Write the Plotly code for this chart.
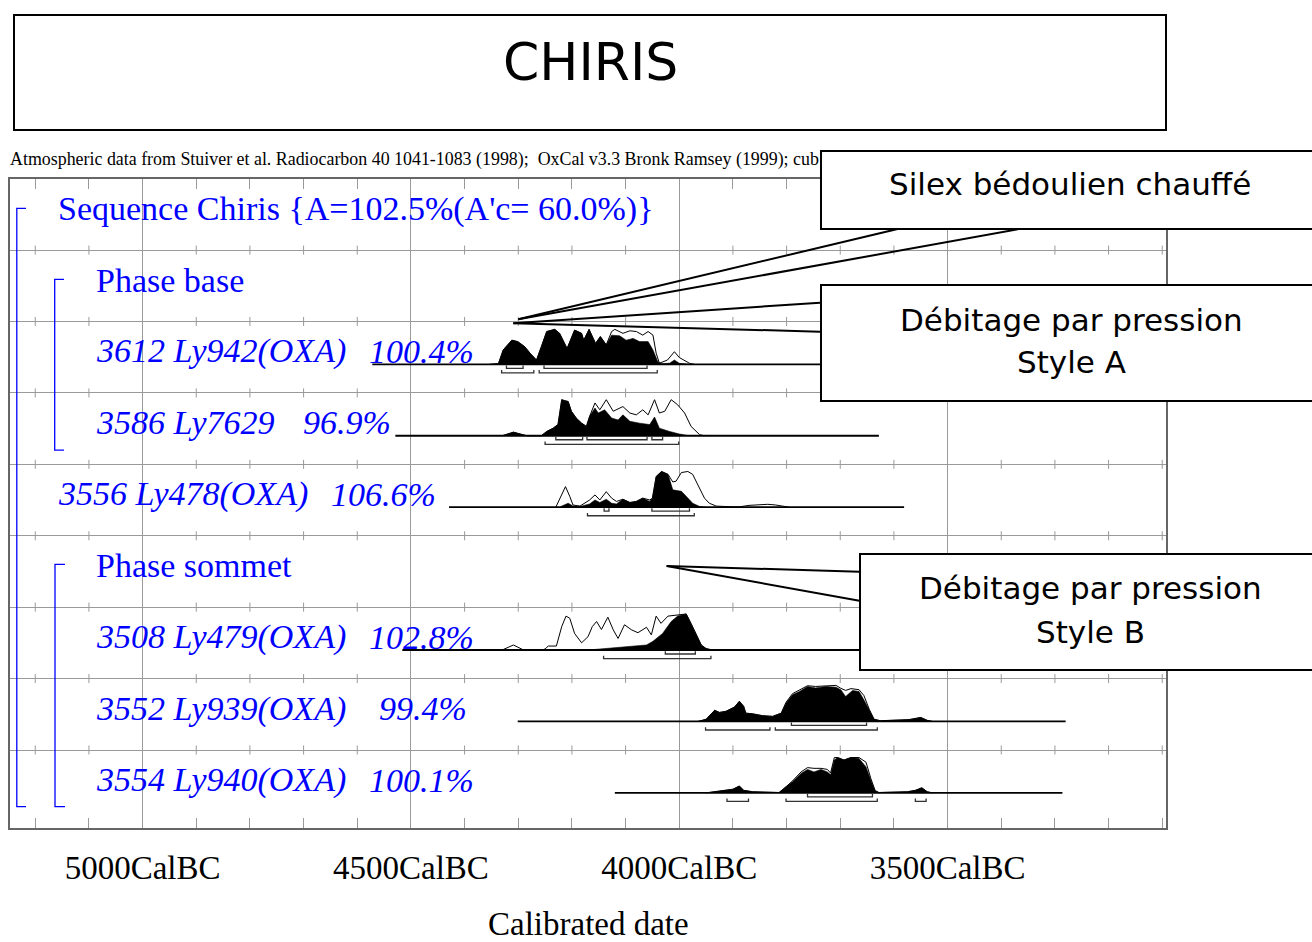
import plotly.graph_objects as go

W, H = 1312, 942

# ---------------- data ----------------
X_RANGE = [5248, 3093]                      # cal BC, left -> right
MAJOR_YEARS = [5000, 4500, 4000, 3500]
MAJOR_LABELS = ["5000CalBC", "4500CalBC", "4000CalBC", "3500CalBC"]
MINOR_YEARS = [5200, 5100, 4900, 4800, 4700, 4600, 4400, 4300, 4200, 4100,
               3900, 3800, 3700, 3600, 3400, 3300, 3200, 3100]
GRID_ROWS = [1, 2, 3, 4, 5, 6, 7, 8]

GROUP_LABELS = ["Sequence Chiris {A=102.5%(A'c= 60.0%)}", "Phase base", "Phase sommet"]
GROUP_ROWS = [0, 1, 5]

SAMPLE_NAMES = ["3612 Ly942(OXA)", "3586 Ly7629", "3556 Ly478(OXA)",
                "3508 Ly479(OXA)", "3552 Ly939(OXA)", "3554 Ly940(OXA)"]
SAMPLE_AGREE = ["100.4%", "96.9%", "106.6%", "102.8%", "99.4%", "100.1%"]
SAMPLE_ROWS = [2, 3, 4, 6, 7, 8]
LINE_START = [4572, 4529, 4429, 4516, 4301, 4120]
LINE_END = [3590, 3628, 3581, 3590, 3280, 3286]

# 3612 Ly942
S3612_post_yr = [4353, 4337, 4328, 4312, 4301, 4288, 4278, 4266, 4257, 4247, 4232, 4223, 4209, 4195,
                 4182, 4178, 4168, 4156, 4147, 4136, 4126, 4111, 4099, 4086, 4074, 4058, 4049, 4040,
                 4033, 4018, 4009, 4000, 3981]
S3612_post_h = [0, 2, 40, 67, 63, 49, 31, 12, 49, 91, 97, 86, 44, 95,
                86, 67, 97, 58, 77, 54, 81, 79, 67, 72, 63, 63, 40, 7,
                2, 3, 12, 3, 0]
S3612_prior_yr = [4353, 4337, 4328, 4312, 4301, 4288, 4278, 4266, 4257, 4247, 4232, 4223, 4209, 4195,
                  4182, 4178, 4168, 4156, 4147, 4136, 4126, 4120, 4105, 4092, 4080, 4068, 4058, 4049,
                  4043, 4037, 4022, 4009, 4000, 3981, 3972]
S3612_prior_h = [0, 2, 40, 67, 63, 49, 31, 12, 49, 91, 97, 86, 44, 95,
                 86, 67, 97, 58, 77, 54, 91, 97, 86, 93, 91, 81, 91, 81,
                 31, 3, 12, 35, 19, 3, 0]

# 3586 Ly7629
S3586_post_yr = [4330, 4309, 4284, 4257, 4247, 4235, 4226, 4219, 4213, 4207, 4201, 4192, 4182, 4173,
                 4167, 4157, 4151, 4139, 4126, 4114, 4105, 4092, 4074, 4055, 4046, 4037, 4018, 4000, 3981]
S3586_post_h = [0, 10, 0, 0, 12, 21, 31, 100, 97, 95, 68, 49, 35, 26,
                54, 77, 63, 72, 49, 44, 58, 40, 35, 31, 52, 21, 12, 5, 0]
S3586_prior_yr = [4330, 4309, 4284, 4257, 4247, 4235, 4226, 4219, 4213, 4207, 4201, 4192, 4182, 4173,
                  4167, 4157, 4148, 4136, 4123, 4105, 4092, 4080, 4068, 4058, 4046, 4037, 4027, 4015,
                  4003, 3990, 3978, 3962, 3953]
S3586_prior_h = [0, 10, 0, 0, 12, 21, 31, 100, 97, 95, 68, 49, 35, 26,
                 54, 91, 72, 100, 68, 81, 63, 58, 72, 58, 100, 63, 68, 100,
                 86, 63, 26, 3, 0]

# 3556 Ly478
S3556_post_yr = [4222, 4219, 4207, 4198, 4185, 4167, 4157, 4148, 4136, 4126, 4117, 4105, 4092, 4080,
                 4068, 4055, 4050, 4043, 4033, 4021, 4012, 3996, 3987, 3975, 3962, 3950]
S3556_post_h = [0, 3, 11, 3, 2, 9, 20, 13, 22, 11, 9, 22, 13, 16,
                25, 16, 25, 85, 99, 91, 48, 44, 30, 11, 2, 0]
S3556_prior_yr = [4230, 4219, 4212, 4204, 4198, 4185, 4167, 4157, 4148, 4136, 4126, 4117, 4105, 4092,
                  4080, 4068, 4055, 4050, 4043, 4033, 4021, 4012, 4006, 3996, 3984, 3975, 3965, 3953,
                  3944, 3931, 3900, 3888, 3870, 3850, 3835, 3820, 3801, 3795]
S3556_prior_h = [0, 34, 57, 30, 6, 3, 20, 34, 20, 43, 25, 16, 22, 13,
                 16, 25, 20, 25, 85, 99, 91, 70, 72, 96, 99, 91, 62, 25,
                 11, 3, 1, 1, 5, 6, 8, 6, 2, 0]

# 3508 Ly479
S3508_post_yr = [4170, 4123, 4086, 4061, 4049, 4031, 4015, 4003, 3987, 3978, 3968, 3959, 3950, 3938]
S3508_post_h = [0, 6, 9, 14, 24, 46, 79, 94, 100, 74, 42, 14, 4, 0]
S3508_prior_yr = [4330, 4309, 4290, 4255, 4250, 4244, 4229, 4219, 4211, 4204, 4195, 4182, 4170, 4162,
                  4154, 4145, 4133, 4123, 4114, 4102, 4089, 4077, 4061, 4052, 4043, 4034, 4021, 4006,
                  3987, 3978, 3968, 3959, 3950, 3938]
S3508_prior_h = [0, 14, 0, 0, 3, 11, 11, 65, 94, 88, 46, 20, 37, 65,
                 79, 57, 91, 56, 32, 70, 56, 48, 63, 42, 94, 74, 94, 97,
                 100, 74, 42, 14, 4, 0]

# 3552 Ly939
S3552_post_yr = [3965, 3950, 3934, 3925, 3913, 3903, 3897, 3888, 3880, 3876, 3863, 3845, 3826, 3810,
                 3801, 3789, 3776, 3761, 3746, 3727, 3708, 3699, 3690, 3677, 3665, 3656, 3646, 3637,
                 3625, 3572, 3550, 3538, 3528]
S3552_post_h = [0, 6, 31, 25, 28, 37, 40, 56, 42, 23, 21, 16, 14, 23,
                51, 74, 83, 97, 93, 97, 95, 88, 69, 86, 83, 60, 32, 6,
                2, 5, 11, 3, 0]
S3552_prior_yr = [3965, 3950, 3934, 3925, 3913, 3903, 3897, 3888, 3880, 3876, 3863, 3845, 3826, 3810,
                  3801, 3789, 3776, 3761, 3746, 3727, 3708, 3699, 3690, 3680, 3665, 3656, 3646, 3637,
                  3625, 3572, 3550, 3538, 3528]
S3552_prior_h = [0, 6, 31, 25, 28, 37, 40, 56, 42, 23, 21, 16, 14, 23,
                 53, 77, 88, 99, 97, 99, 100, 92, 86, 91, 88, 72, 34, 6,
                 2, 5, 11, 3, 0]

# 3554 Ly940
S3554_post_yr = [3950, 3938, 3913, 3900, 3888, 3880, 3863, 3814, 3801, 3789, 3773, 3761, 3749, 3736,
                 3724, 3718, 3711, 3705, 3693, 3680, 3665, 3652, 3643, 3635, 3628, 3575, 3560, 3548,
                 3538, 3528]
S3554_post_h = [0, 2, 7, 10, 19, 7, 3, 1, 17, 31, 54, 65, 58, 65,
                58, 50, 91, 98, 91, 98, 95, 72, 35, 6, 1, 3, 7, 14,
                3, 0]
S3554_prior_yr = [3950, 3938, 3913, 3900, 3888, 3880, 3863, 3814, 3801, 3789, 3773, 3761, 3749, 3736,
                  3724, 3718, 3711, 3705, 3693, 3680, 3665, 3652, 3643, 3635, 3628, 3575, 3560, 3548,
                  3538, 3528]
S3554_prior_h = [0, 2, 7, 10, 19, 7, 3, 1, 17, 33, 58, 70, 68, 68,
                 65, 55, 98, 98, 91, 98, 98, 85, 40, 6, 1, 3, 7, 14,
                 3, 0]

# highest-density ranges (cal BC): 68.2% (upper) and 95.4% (lower)
RANGES_68 = [[(4322, 4291), (4252, 4060)],
             [(4230, 4180), (4172, 4060), (4051, 4031)],
             [(4140, 4131), (4051, 3981)],
             [(4026, 3970)],
             [(3791, 3651)],
             [(3761, 3640)]]
RANGES_95 = [[(4331, 4271), (4261, 4041)],
             [(4250, 4001)],
             [(4171, 3972)],
             [(4141, 3941)],
             [(3951, 3831), (3821, 3631)],
             [(3911, 3871), (3801, 3631), (3560, 3540)]]

POSTERIORS = [(S3612_post_yr, S3612_post_h), (S3586_post_yr, S3586_post_h),
              (S3556_post_yr, S3556_post_h), (S3508_post_yr, S3508_post_h),
              (S3552_post_yr, S3552_post_h), (S3554_post_yr, S3554_post_h)]
PRIORS = [(S3612_prior_yr, S3612_prior_h), (S3586_prior_yr, S3586_prior_h),
          (S3556_prior_yr, S3556_prior_h), (S3508_prior_yr, S3508_prior_h),
          (S3552_prior_yr, S3552_prior_h), (S3554_prior_yr, S3554_prior_h)]

CALLOUTS = ["Silex bédoulien chauffé", "Débitage par pression", "Style A",
            "Débitage par pression", "Style B"]

# ---------------- styling ----------------
BLUE = "#0000FF"
GRID = "#9a9a9a"
SERIF = "Liberation Serif, Times New Roman, serif"
COMIC = "Comic Sans MS, DejaVu Sans, sans-serif"
BASE_OFF = 0.6      # baseline position within a row
HSCALE = 0.505 / 100
TICK_HALF = 0.063


def px(x):
    return x / W


def py(y):
    return 1 - y / H


fig = go.Figure()

# small ticks on each interior grid line
tx, ty = [], []
for r in GRID_ROWS:
    for yr in MINOR_YEARS:
        tx += [yr, yr, None]
        ty += [r - TICK_HALF, r + TICK_HALF, None]
fig.add_trace(go.Scatter(x=tx, y=ty, mode="lines", line=dict(color=GRID, width=1),
                         hoverinfo="skip", showlegend=False))

for i, row in enumerate(SAMPLE_ROWS):
    base = row + BASE_OFF
    pyr, ph = PRIORS[i]
    qyr, qh = POSTERIORS[i]
    # prior (outline, white fill)
    fig.add_trace(go.Scatter(
        x=[pyr[0]] + pyr + [pyr[-1]],
        y=[base] + [base - v * HSCALE for v in ph] + [base],
        mode="lines", fill="toself", fillcolor="white",
        line=dict(color="black", width=1), hoverinfo="skip", showlegend=False))
    # posterior (black)
    fig.add_trace(go.Scatter(
        x=[qyr[0]] + qyr + [qyr[-1]],
        y=[base] + [base - v * HSCALE for v in qh] + [base],
        mode="lines", fill="toself", fillcolor="black",
        line=dict(color="black", width=0.6), hoverinfo="skip", showlegend=False))
    # baseline
    fig.add_trace(go.Scatter(x=[LINE_START[i], LINE_END[i]], y=[base, base], mode="lines",
                             line=dict(color="black", width=1.8),
                             hoverinfo="skip", showlegend=False))
    # range brackets
    bx, by = [], []
    for ranges, off in ((RANGES_68[i], 0.056), (RANGES_95[i], 0.12)):
        yb = base + off
        for a, b in ranges:
            bx += [a, a, b, b, None]
            by += [yb - 0.04, yb, yb, yb - 0.04, None]
    fig.add_trace(go.Scatter(x=bx, y=by, mode="lines", line=dict(color="#333333", width=1.3),
                             hoverinfo="skip", showlegend=False))

shapes = []
# title box
shapes.append(dict(type="rect", xref="paper", yref="paper", x0=px(14), x1=px(1166),
                   y0=py(130), y1=py(15), line=dict(color="black", width=2)))
# structure brackets (blue)
for xv, xt, r0, r1 in ((16.8, 26, 0.415, 8.794), (54.7, 64, 1.409, 3.80), (55, 65, 5.40, 8.794)):
    shapes.append(dict(type="path", xref="paper", yref="y",
                       path=f"M {px(xt)},{r0} L {px(xv)},{r0} L {px(xv)},{r1} L {px(xt)},{r1}",
                       line=dict(color=BLUE, width=1.3)))
# callout pointers
for (x0, y0), (x1, y1) in (((518.3, 319.3), (903.9, 227.5)), ((518.3, 319.3), (1027.7, 227.5)),
                           ((513.3, 323.3), (820, 302.7)), ((513.3, 323.3), (820, 331.7)),
                           ((666.6, 566), (859.4, 571.7)), ((666.6, 566), (859.4, 600.7))):
    shapes.append(dict(type="line", xref="paper", yref="paper", x0=px(x0), y0=py(y0),
                       x1=px(x1), y1=py(y1), line=dict(color="black", width=2)))

ann = []


def text_ann(x, y, text, font, xanchor="center", yref="paper"):
    return dict(xref="paper", yref=yref, x=x, y=y, xanchor=xanchor, yanchor="middle",
                text=text, showarrow=False, font=font)


ann.append(text_ann(px(590), py(62), "CHIRIS", dict(family=COMIC, size=52, color="black")))
ann.append(text_ann(px(8), py(160),
                    "Atmospheric data from Stuiver et al. Radiocarbon 40 1041-1083 (1998);  "
                    "OxCal v3.3 Bronk Ramsey (1999); cub r:5 sd:12 prob usp[chron]",
                    dict(family=SERIF, size=17.9, color="black"), xanchor="left"))
ann.append(text_ann(px(588), py(924), "Calibrated date", dict(family=SERIF, size=33, color="black")))

for lab, row in zip(GROUP_LABELS, GROUP_ROWS):
    ann.append(text_ann(px(56 if row == 0 else 94), row + 0.42, lab,
                        dict(family=SERIF, size=34, color=BLUE), xanchor="left", yref="y"))

NAME_X = [94, 94, 56, 94, 94, 94]
AGREE_END = [476, 393, 438, 476, 469, 476]
for i, row in enumerate(SAMPLE_ROWS):
    ann.append(text_ann(px(NAME_X[i]), row + 0.42, f"<i>{SAMPLE_NAMES[i]}</i>",
                        dict(family=SERIF, size=34, color=BLUE), xanchor="left", yref="y"))
    ann.append(text_ann(px(AGREE_END[i]), row + 0.42, f"<i>{SAMPLE_AGREE[i]}</i>",
                        dict(family=SERIF, size=34, color=BLUE), xanchor="right", yref="y"))

# callout boxes (white, drawn over everything)
for (x0, y0, w, h) in ((820, 149.5, 500, 76), (820, 284, 500, 114), (859.4, 552.7, 462, 114)):
    ann.append(dict(xref="paper", yref="paper", x=px(x0), y=py(y0), xanchor="left", yanchor="top",
                    text="\u00a0", width=w, height=h, bgcolor="white", bordercolor="black",
                    borderwidth=2, borderpad=0, showarrow=False))
for txt, (cx, cy) in zip(CALLOUTS, ((1070, 184), (1071, 320), (1071, 362), (1090, 588), (1090, 632))):
    ann.append(text_ann(px(cx), py(cy), txt, dict(family=COMIC, size=31, color="black")))

fig.update_layout(
    width=W, height=H, margin=dict(l=0, r=0, t=0, b=0),
    paper_bgcolor="white", plot_bgcolor="white", showlegend=False,
    shapes=shapes, annotations=ann,
    xaxis=dict(domain=[px(9.5), px(1166)], range=X_RANGE, tickmode="array",
               tickvals=MAJOR_YEARS, ticktext=MAJOR_LABELS, showgrid=True, gridcolor=GRID,
               gridwidth=1, ticks="inside", ticklen=10, tickcolor=GRID, showline=True,
               linecolor="#666666", linewidth=1.5, mirror="ticks", zeroline=False,
               tickfont=dict(family=SERIF, size=33, color="black"), ticklabelstandoff=10,
               minor=dict(tickmode="array", tickvals=MINOR_YEARS, ticks="inside", ticklen=10,
                          tickcolor=GRID, showgrid=False)),
    yaxis=dict(domain=[py(828), py(179.3)], range=[9.092, 0.009], tickmode="array",
               tickvals=GRID_ROWS, showticklabels=False, showgrid=True, gridcolor=GRID,
               gridwidth=1, ticks="", showline=True, linecolor="#666666", linewidth=1.5,
               mirror=True, zeroline=False),
)

fig.write_html("out.html", config={"displayModeBar": False},
               post_script="document.body.style.margin='0';document.body.style.overflow='hidden';")
